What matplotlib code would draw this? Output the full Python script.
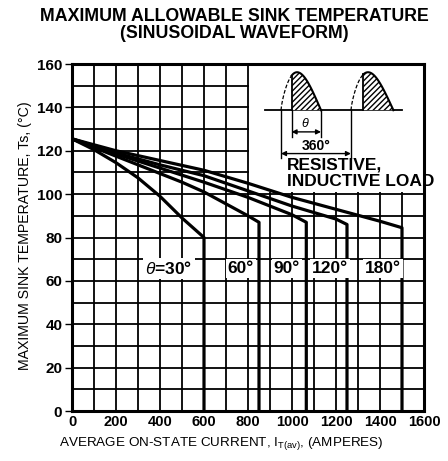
import numpy as np
import matplotlib
matplotlib.use("Agg")
import matplotlib.pyplot as plt
from matplotlib.patches import Rectangle

plt.rcParams['font.family'] = ['Liberation Sans', 'DejaVu Sans']
plt.rcParams['mathtext.fontset'] = 'custom'
plt.rcParams['mathtext.rm'] = 'Liberation Sans'
plt.rcParams['mathtext.it'] = 'Liberation Sans:italic'
plt.rcParams['mathtext.bf'] = 'Liberation Sans:bold'
plt.rcParams['hatch.linewidth'] = 1.0

# ---------------- data ----------------
angles = ['30', '60', '90', '120', '180']
x30 = [0, 100, 200, 300, 400, 500, 600]
t30 = [125.5, 120.5, 114.5, 107.5, 99, 89, 80]
x60 = [0, 100, 200, 300, 400, 500, 600, 700, 800, 850]
t60 = [125.5, 121.5, 117.5, 113.5, 109.5, 105.5, 101, 95.5, 90, 87]
x90 = [0, 200, 400, 600, 800, 1000, 1065]
t90 = [125.5, 118.5, 112, 105.5, 98.5, 90.5, 87]
x120 = [0, 200, 400, 600, 800, 1000, 1200, 1250]
t120 = [125.5, 119, 113.5, 108.5, 101.5, 94.5, 88.5, 86]
x180 = [0, 200, 400, 600, 800, 1000, 1200, 1400, 1500]
t180 = [125.5, 120, 115.5, 111, 105, 98.5, 93, 87.5, 84.5]
curves_x = [x30, x60, x90, x120, x180]
curves_t = [t30, t60, t90, t120, t180]
label_x = [441, 768, 976, 1172, 1415]
label_t = 65.8

x_ticks = [0, 200, 400, 600, 800, 1000, 1200, 1400, 1600]
y_ticks = [0, 20, 40, 60, 80, 100, 120, 140, 160]

# ---------------- figure ----------------
W, H = 448, 461
fig = plt.figure(figsize=(W / 100, H / 100), dpi=100)
ax = fig.add_axes([72 / W, 1 - 411 / H, 352 / W, 347 / H])
ax.set_xlim(0, 1600)
ax.set_ylim(0, 160)

# grid
for gx in range(100, 1600, 100):
    ax.axvline(gx, color='black', lw=1.3, zorder=1)
for gy in range(10, 160, 10):
    ax.axhline(gy, color='black', lw=1.3, zorder=1)

# blank area for the inset
ax.add_patch(Rectangle((803, 100.8), 800, 60, facecolor='white',
                       edgecolor='none', zorder=1.5))

# curves
for xs, ts in zip(curves_x, curves_t):
    ax.plot(list(xs) + [xs[-1]], list(ts) + [0], color='black', lw=2.3,
            solid_joinstyle='round', zorder=3)

# angle labels
for i, (a, lx) in enumerate(zip(angles, label_x)):
    s = (r'$\theta$' + '=' + a + '°') if i == 0 else a + '°'
    ax.text(lx, label_t, s, ha='center', va='center', fontsize=12.5,
            fontweight='bold', zorder=4,
            bbox=dict(facecolor='white', edgecolor='none', pad=1.5))

# ---------------- inset waveform ----------------
base = 138.7
amp = 17.5
ax.plot([877, 1498], [base, base], color='black', lw=1.3, zorder=4)
for s, e, hs in [(950, 1132, 998), (1268, 1461, 1324)]:
    xs = np.linspace(s, e, 80)
    u = (xs - s) / (e - s)
    ys = base + amp * np.sin(np.pi * u ** 0.76)
    m = xs >= hs
    ax.fill_between(xs[m], base, ys[m], facecolor='white', edgecolor='black',
                    hatch='//////', lw=0, zorder=4)
    ax.plot(xs[m], ys[m], color='black', lw=1.5, zorder=5)
    ax.plot(xs[~m], ys[~m], color='black', lw=0.9, ls=(0, (3, 1.5)), zorder=5)
    yh = base + amp * np.sin(np.pi * ((hs - s) / (e - s)) ** 0.76)
    ax.plot([hs, hs], [base, yh], color='black', lw=1.3, zorder=5)

# theta dimension
ax.plot([998, 998], [base, 126.5], color='black', lw=1.0, zorder=5)
ax.plot([1132, 1132], [base, 126.5], color='black', lw=1.0, zorder=5)
ax.annotate('', xy=(998, 128.7), xytext=(1132, 128.7),
            arrowprops=dict(arrowstyle='<|-|>', color='black', lw=1.0,
                            mutation_scale=7, shrinkA=0, shrinkB=0), zorder=5)
ax.text(1062, 132.6, r'$\theta$', ha='center', va='center', fontsize=9,
        zorder=5)
# 360 dimension
ax.plot([950, 950], [base, 116.8], color='black', lw=1.0, zorder=5)
ax.plot([1268, 1268], [base, 116.8], color='black', lw=1.0, zorder=5)
ax.annotate('', xy=(950, 118.7), xytext=(1268, 118.7),
            arrowprops=dict(arrowstyle='<|-|>', color='black', lw=1.0,
                            mutation_scale=7, shrinkA=0, shrinkB=0), zorder=5)
ax.text(1112, 122.2, '360°', ha='center', va='center', fontsize=10,
        fontweight='bold', zorder=5)
ax.text(976, 113.4, 'RESISTIVE,', ha='left', va='center', fontsize=12.5,
        fontweight='bold', zorder=6, clip_on=False)
ax.text(976, 105.7, 'INDUCTIVE LOAD', ha='left', va='center', fontsize=12.5,
        fontweight='bold', zorder=6, clip_on=False)

# ---------------- axes styling ----------------
for sp in ax.spines.values():
    sp.set_linewidth(2.2)
    sp.set_zorder(6)
ax.set_xticks(x_ticks)
ax.set_yticks(y_ticks)
ax.set_xticklabels([str(v) for v in x_ticks], fontsize=10.5, fontweight='bold')
ax.set_yticklabels([str(v) for v in y_ticks], fontsize=11, fontweight='bold')
ax.tick_params(axis='x', length=0, pad=3)
ax.tick_params(axis='y', length=5, width=1.0, pad=2)

fig.text(234 / W, 1 - 16.5 / H, 'MAXIMUM ALLOWABLE SINK TEMPERATURE',
         ha='center', va='center', fontsize=12.8, fontweight='bold')
fig.text(234 / W, 1 - 33.5 / H, '(SINUSOIDAL WAVEFORM)',
         ha='center', va='center', fontsize=12.8, fontweight='bold')
fig.text(221 / W, 1 - 443 / H,
         r'AVERAGE ON-STATE CURRENT, I$_{\mathregular{T(av)}}$, (AMPERES)',
         ha='center', va='center', fontsize=9.7)
fig.text(25 / W, 1 - 236 / H, 'MAXIMUM SINK TEMPERATURE, Ts, (°C)',
         ha='center', va='center', fontsize=10.2, rotation=90)

fig.savefig('out.png', dpi=100)
